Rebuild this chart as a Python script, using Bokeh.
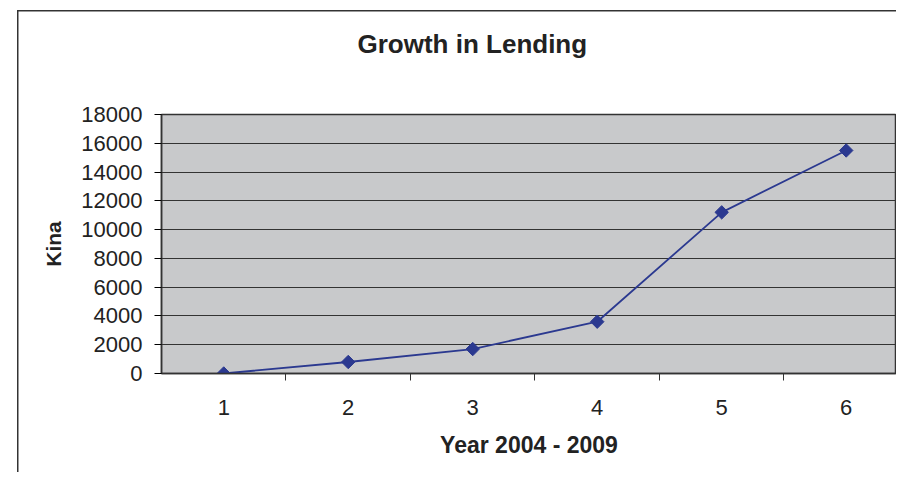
import math
from bokeh.plotting import figure
from bokeh.models import FixedTicker, Range1d, Title
from bokeh.embed import file_html
from bokeh.resources import INLINE

years = [1, 2, 3, 4, 5, 6]
lending = [0, 800, 1700, 3600, 11200, 15500]
y_ticks = [0, 2000, 4000, 6000, 8000, 10000, 12000, 14000, 16000, 18000]
x_boundaries = [1.5, 2.5, 3.5, 4.5, 5.5]

FONT = "Liberation Sans"

p = figure(width=896, height=472, output_backend="svg", toolbar_location=None,
           x_range=Range1d(0.5, 6.404), y_range=Range1d(0, 18000),
           min_border_left=161, min_border_right=0, min_border_top=114, min_border_bottom=99,
           title="Growth in Lending")

p.title.align = "left"
p.title.offset = 196
p.title.text_font = FONT
p.title.text_font_size = "26px"
p.title.text_font_style = "bold"
p.title.text_color = "#222222"
p.title.standoff = 20

# empty spacer panel between the title and the plot area
p.add_layout(Title(text=" ", text_font=FONT, text_font_size="20px", standoff=22), "above")

p.background_fill_color = "#c8c9cb"
p.border_fill_color = None
p.outline_line_color = "#333333"
p.outline_line_width = 1.5
p.styles = {
    "background-color": "white",
    "background-image": "linear-gradient(#333,#333), linear-gradient(#333,#333)",
    "background-size": "100% 1.5px, 1.5px 100%",
    "background-position": "17px 10px, 17px 10px",
    "background-repeat": "no-repeat",
}

p.line(years, lending, line_color="#2b3990", line_width=1.8)
p.scatter(years, lending, marker="square", angle=math.pi / 4, size=9.5,
          fill_color="#2b3990", line_color="#2b3990")

# grid
p.xgrid.visible = False
p.ygrid.ticker = FixedTicker(ticks=y_ticks)
p.ygrid.grid_line_color = "#333333"
p.ygrid.grid_line_width = 1.2

# y axis
p.yaxis.ticker = FixedTicker(ticks=y_ticks)
p.yaxis.axis_line_color = "#333333"
p.yaxis.axis_line_width = 1.5
p.yaxis.major_tick_out = 7
p.yaxis.major_tick_in = 0
p.yaxis.minor_tick_out = 0
p.yaxis.major_label_standoff = 12
p.yaxis.major_label_text_font = FONT
p.yaxis.major_label_text_font_size = "22px"
p.yaxis.major_label_text_color = "#222222"
p.yaxis.axis_label = "Kina"
p.yaxis.axis_label_text_font = FONT
p.yaxis.axis_label_text_font_size = "21px"
p.yaxis.axis_label_text_font_style = "bold"
p.yaxis.axis_label_text_color = "#222222"
p.yaxis.axis_label_standoff = 13

# x axis
p.xaxis.ticker = FixedTicker(ticks=years, minor_ticks=x_boundaries)
p.xaxis.axis_line_color = "#333333"
p.xaxis.axis_line_width = 1.5
p.xaxis.major_tick_out = 0
p.xaxis.major_tick_in = 0
p.xaxis.minor_tick_out = 7
p.xaxis.minor_tick_in = 0
p.xaxis.minor_tick_line_color = "#333333"
p.xaxis.major_label_standoff = 19
p.xaxis.major_label_text_font = FONT
p.xaxis.major_label_text_font_size = "22px"
p.xaxis.major_label_text_color = "#222222"
p.xaxis.axis_label = "Year 2004 - 2009"
p.xaxis.axis_label_text_font = FONT
p.xaxis.axis_label_text_font_size = "23px"
p.xaxis.axis_label_text_font_style = "bold"
p.xaxis.axis_label_text_color = "#222222"
p.xaxis.axis_label_standoff = 14

open("out.html", "w").write(file_html(p, INLINE))
